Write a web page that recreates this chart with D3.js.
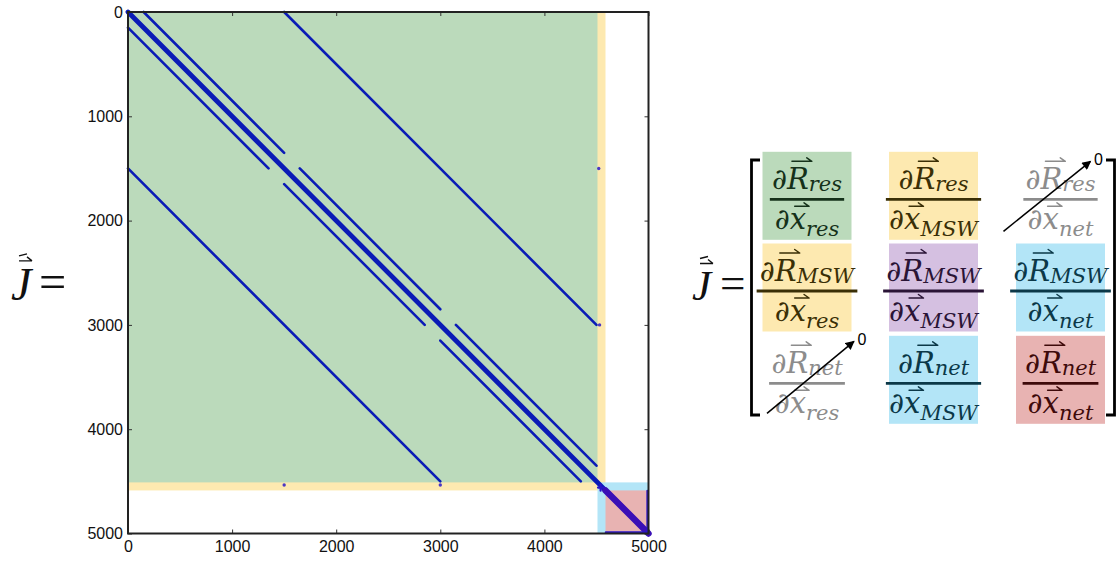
<!DOCTYPE html>
<html><head><meta charset="utf-8">
<script src="https://cdn.jsdelivr.net/npm/d3@7"></script>
<style>body{margin:0;background:#fff} svg{display:block}</style>
</head><body>
<svg id="c" width="1119" height="561"></svg>
<script>
// ---------------- data ----------------
const matrixSize = 5000;
const axisTicks = [0, 1000, 2000, 3000, 4000, 5000];

// coloured block regions (square blocks on the diagonal, index space)
const regionFrom = [0, 0, 4510, 4587];
const regionTo   = [4587, 4510, 5000, 5000];
const regionKind = ["yellow", "green", "blue", "red"];

// diagonal bands of the sparsity pattern: column = row + offset
const bandOffset   = [0, 0, 150, 150, 150, -150, -150, -150, 1500, -1500];
const bandRowStart = [0, 4587, 0, 1500, 3000, 150, 1650, 3150, 0, 1500];
const bandRowEnd   = [4587, 5000, 1350, 2850, 4350, 1500, 3000, 4500, 3000, 4500];
const bandKind     = ["main", "net", "off", "off", "off", "off", "off", "off", "off", "off"];

// straight row / column runs of non-zeros
const runType = ["row", "col", "row", "col"];
const runAt   = [4990, 4990, 4560, 4540];
const runFrom = [4590, 4590, 4515, 4530];
const runTo   = [5000, 5000, 4570, 4590];

// isolated non-zeros (well couplings)
const dotRow = [1500, 3000, 4535, 4535];
const dotCol = [4522, 4530, 1500, 3000];

// Jacobian block equation
const eqBlocks = ["res", "MSW", "net"];
const eqCellColor = [["green", "yellow", "none"], ["yellow", "purple", "blue"], ["none", "blue", "red"]];
const eqZero = [[false, false, true], [false, false, false], [true, false, false]];

// ---------------- styles ----------------
const fill = {green: "#bbdabb", yellow: "#fde9b0", blue: "#b3e5f7", red: "#e8b3b2", purple: "#d5c0e1", none: "none"};
const ink  = {green: "#15311a", yellow: "#3a2f06", blue: "#0b3848", red: "#3e0a0a", purple: "#2a1436", none: "#8c8c8c"};
const bandStyle = {
  main: {stroke: "#0a1bb6", width: 4.8},
  net:  {stroke: "#3a0fb6", width: 6.4},
  off:  {stroke: "#0a1bb6", width: 2.6}
};

const svg = d3.select("#c");
const x = d3.scaleLinear().domain([0, matrixSize]).range([128, 648.5]);
const y = d3.scaleLinear().domain([0, matrixSize]).range([12, 533.5]);

// regions
svg.append("g").selectAll("rect").data(regionFrom.map((f, i) => ({f, t: regionTo[i], k: regionKind[i]})))
  .join("rect")
  .attr("x", d => x(d.f)).attr("y", d => y(d.f))
  .attr("width", d => x(d.t) - x(d.f)).attr("height", d => y(d.t) - y(d.f))
  .attr("fill", d => fill[d.k]);

// bands
const bands = bandOffset.map((o, i) => ({o, r0: bandRowStart[i], r1: bandRowEnd[i], k: bandKind[i]}));
svg.append("g").selectAll("line").data(bands).join("line")
  .attr("x1", d => x(d.r0 + d.o)).attr("y1", d => y(d.r0))
  .attr("x2", d => x(d.r1 + d.o)).attr("y2", d => y(d.r1))
  .attr("stroke", d => bandStyle[d.k].stroke)
  .attr("stroke-width", d => bandStyle[d.k].width)
  .attr("stroke-linecap", "round");

// row/col runs
const runs = runType.map((t, i) => ({t, at: runAt[i], f: runFrom[i], to: runTo[i]}));
svg.append("g").selectAll("line").data(runs).join("line")
  .attr("x1", d => d.t === "row" ? x(d.f) : x(d.at))
  .attr("x2", d => d.t === "row" ? x(d.to) : x(d.at))
  .attr("y1", d => d.t === "row" ? y(d.at) : y(d.f))
  .attr("y2", d => d.t === "row" ? y(d.at) : y(d.to))
  .attr("stroke", "#2a14c8").attr("stroke-width", 2.2).attr("stroke-linecap", "round");

// dots
svg.append("g").selectAll("circle").data(dotRow.map((r, i) => ({r, c: dotCol[i]}))).join("circle")
  .attr("cx", d => x(d.c)).attr("cy", d => y(d.r)).attr("r", 1.7).attr("fill", "#4a38c4");

// axes
const fmt = d3.format("d");
const tickFont = g => g.selectAll("text").attr("font-family", "Liberation Sans, Arial, sans-serif")
  .attr("font-size", 16).attr("fill", "#111");
const tickLines = g => { g.select(".domain").remove(); g.selectAll(".tick line").attr("stroke", "#333"); };
svg.append("g").attr("transform", `translate(${x(0)},0)`)
  .call(d3.axisLeft(y).tickValues(axisTicks).tickFormat(fmt).tickSizeInner(-4).tickSizeOuter(0).tickPadding(5))
  .call(tickLines).call(tickFont);
svg.append("g").attr("transform", `translate(0,${y(matrixSize)})`)
  .call(d3.axisBottom(x).tickValues(axisTicks).tickFormat(fmt).tickSizeInner(-4).tickSizeOuter(0).tickPadding(7.5))
  .call(tickLines).call(tickFont);
svg.append("g").attr("transform", `translate(0,${y(0)})`)
  .call(d3.axisTop(x).tickValues(axisTicks).tickSizeInner(-4).tickSizeOuter(0).tickFormat(""))
  .call(tickLines);
svg.append("g").attr("transform", `translate(${x(matrixSize)},0)`)
  .call(d3.axisRight(y).tickValues(axisTicks).tickSizeInner(-4).tickSizeOuter(0).tickFormat(""))
  .call(tickLines);
svg.append("rect").attr("x", x(0)).attr("y", y(0))
  .attr("width", x(matrixSize) - x(0)).attr("height", y(matrixSize) - y(0))
  .attr("fill", "none").attr("stroke", "#222").attr("stroke-width", 2);

// ---------------- J = labels ----------------
function jLabel(x0, base, size) {
  const g = svg.append("g");
  g.append("text").attr("x", x0).attr("y", base).text("J")
    .attr("font-family", "Liberation Serif, Times New Roman, serif").attr("font-style", "italic")
    .attr("font-size", size).attr("fill", "#111");
  const ay = base - size * 0.85;
  g.append("path")
    .attr("d", `M${x0 + 8},${ay} L${x0 + 21},${ay} M${x0 + 16},${ay - 4} L${x0 + 21},${ay} M${x0 + 8},${ay - 5} L${x0 + 16},${ay - 7}`)
    .attr("stroke", "#111").attr("stroke-width", 1.4).attr("fill", "none");
  g.append("text").attr("x", x0 + 28).attr("y", base - 2).text("=")
    .attr("font-family", "Liberation Serif, Times New Roman, serif")
    .attr("font-size", size * 1.05).attr("fill", "#111");
}
jLabel(11, 300, 46);
jLabel(692, 300, 43);

// ---------------- matrix ----------------
const colCx = [807, 933.5, 1060.5];
const rowBar = [199.3, 291, 383.3];
const eq = svg.append("g");

// brackets
eq.append("path").attr("d", "M760,160 L751.5,160 L751.5,415 L760,415")
  .attr("fill", "none").attr("stroke", "#000").attr("stroke-width", 2.8);
eq.append("path").attr("d", "M1106,160 L1114.5,160 L1114.5,415 L1106,415")
  .attr("fill", "none").attr("stroke", "#000").attr("stroke-width", 2.8);

svg.append("defs").append("marker").attr("id", "ah").attr("viewBox", "0 0 10 10")
  .attr("refX", 9).attr("refY", 5).attr("markerWidth", 10).attr("markerHeight", 9)
  .attr("markerUnits", "userSpaceOnUse").attr("orient", "auto")
  .append("path").attr("d", "M0,0 L10,5 L0,10 Z").attr("fill", "#000");

const mathFont = "DejaVu Serif, serif";
function vecArrow(g, x0, x1, yy, color) {
  g.append("path").attr("d", `M${x0},${yy} L${x1},${yy} M${x1 - 5},${yy - 3.5} L${x1},${yy}`)
    .attr("stroke", color).attr("stroke-width", 1.5).attr("fill", "none").attr("stroke-linecap", "round");
}
function fracPart(g, cx, base, letter, sub, subDy, color, capH) {
  const t = g.append("text").attr("x", cx).attr("y", base).attr("text-anchor", "middle")
    .attr("font-family", mathFont).attr("font-style", "italic").attr("font-size", 29).attr("fill", color);
  t.append("tspan").text("\u2202");
  t.append("tspan").text(letter);
  t.append("tspan").attr("font-size", 21).attr("dy", subDy).text(sub);
  const n = t.node();
  const s = n.getStartPositionOfChar(1).x, e = n.getEndPositionOfChar(1).x;
  vecArrow(g, s + 5, e + 3, base - capH, color);
  return n.getBBox();
}

eqCellColor.forEach((row, i) => row.forEach((k, j) => {
  const g = eq.append("g");
  const cx = colCx[j], b = rowBar[i];
  if (k !== "none") {
    g.append("rect").attr("x", cx - 44.5).attr("y", b - 47.5).attr("width", 89).attr("height", 88)
      .attr("fill", fill[k]);
  }
  const c = ink[k];
  const nb = fracPart(g, cx, b - 10, "R", eqBlocks[i], 2, c, 28);
  const db = fracPart(g, cx, b + 30, "x", eqBlocks[j], 7, c, 23);
  const w = Math.max(nb.width, db.width) + 4;
  g.append("line").attr("x1", cx - w / 2).attr("x2", cx + w / 2).attr("y1", b).attr("y2", b)
    .attr("stroke", c).attr("stroke-width", 2.8);
  if (eqZero[i][j]) {
    const sx = j === 2 ? -57 : -40, sy = j === 2 ? 32 : 30;
    const ex = j === 2 ? 30 : 47, ey = j === 2 ? -38 : -42;
    g.append("line").attr("x1", cx + sx).attr("y1", b + sy).attr("x2", cx + ex).attr("y2", b + ey)
      .attr("stroke", "#000").attr("stroke-width", 1.5).attr("marker-end", "url(#ah)");
    g.append("text").attr("x", cx + ex + 8).attr("y", b + ey + 4).attr("text-anchor", "middle")
      .attr("font-family", "Liberation Sans, Arial, sans-serif").attr("font-size", 16).attr("fill", "#000")
      .text("0");
  }
}));
</script>
</body></html>
